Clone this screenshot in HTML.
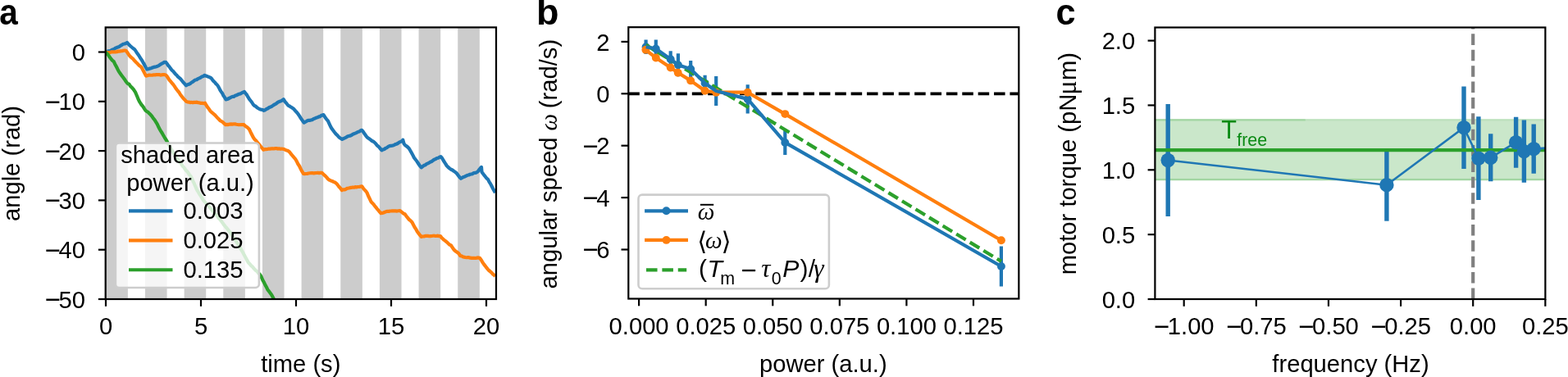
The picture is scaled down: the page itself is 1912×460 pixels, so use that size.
<!DOCTYPE html>
<html lang="en">
<head>
<meta charset="utf-8">
<title>Figure: rotation under modulated power</title>
<style>
html,body{margin:0;padding:0;background:#fff;}
body{width:1912px;height:460px;overflow:hidden;}
svg{display:block;}
svg{font-family:"Liberation Sans", sans-serif;font-size:29.2px;}
</style>
</head>
<body>
<svg width="1912" height="460" viewBox="0 0 1912 460">
<rect x="0" y="0" width="1912" height="460" fill="#fff"/>
<g id="panel-a">
<clipPath id="clipA"><rect x="128.7" y="33.4" width="476.3" height="331.6"/></clipPath>
<g clip-path="url(#clipA)">
<rect x="129.30" y="33.4" width="26.6" height="331.6" fill="#cccccc"/>
<rect x="176.96" y="33.4" width="26.6" height="331.6" fill="#cccccc"/>
<rect x="224.62" y="33.4" width="26.6" height="331.6" fill="#cccccc"/>
<rect x="272.28" y="33.4" width="26.6" height="331.6" fill="#cccccc"/>
<rect x="319.94" y="33.4" width="26.6" height="331.6" fill="#cccccc"/>
<rect x="367.60" y="33.4" width="26.6" height="331.6" fill="#cccccc"/>
<rect x="415.26" y="33.4" width="26.6" height="331.6" fill="#cccccc"/>
<rect x="462.92" y="33.4" width="26.6" height="331.6" fill="#cccccc"/>
<rect x="510.58" y="33.4" width="26.6" height="331.6" fill="#cccccc"/>
<rect x="558.24" y="33.4" width="26.6" height="331.6" fill="#cccccc"/>
<polyline points="129.00,63.50 130.70,62.86 132.40,62.33 134.10,62.10 135.80,61.29 137.50,60.54 139.09,59.87 140.68,58.75 142.27,58.08 143.86,57.47 145.45,56.93 147.05,55.66 148.64,54.80 150.23,53.79 151.82,53.53 153.41,52.94 155.00,51.87 156.75,53.86 158.50,55.76 160.25,57.25 162.00,58.75 163.75,59.95 165.25,61.75 166.75,64.25 168.25,66.22 169.75,68.43 171.25,71.03 172.85,73.18 174.45,76.12 176.05,78.91 177.65,82.00 179.25,84.54 180.90,84.18 182.55,83.60 184.20,83.20 185.85,82.57 187.50,81.94 189.11,81.67 190.72,81.26 192.33,80.58 193.94,79.77 195.56,78.66 197.17,77.67 198.78,76.86 200.39,75.90 202.00,75.73 203.50,77.49 205.00,79.71 206.50,81.35 208.00,83.61 209.50,85.58 211.00,86.75 212.50,88.61 214.00,90.43 215.50,91.82 217.00,93.72 218.50,94.92 220.00,96.13 221.75,98.27 223.50,100.60 225.25,102.35 227.00,104.33 228.60,103.22 230.20,102.91 231.80,102.15 233.40,100.75 235.00,99.88 236.61,98.58 238.22,97.53 239.83,97.22 241.44,96.09 243.06,95.42 244.67,94.54 246.28,93.43 247.89,92.91 249.50,91.87 251.10,92.65 252.70,93.03 254.30,93.82 255.90,94.39 257.50,95.33 259.00,97.34 260.50,99.18 262.00,100.48 263.50,102.46 265.00,103.73 266.50,106.16 268.00,109.07 269.50,111.62 271.00,113.68 272.50,116.75 274.00,118.88 275.50,121.40 277.08,121.02 278.67,120.24 280.25,119.51 281.83,118.65 283.42,117.93 285.00,117.89 286.62,116.83 288.25,116.32 289.88,115.47 291.50,114.73 293.12,114.43 294.75,113.48 296.38,112.69 298.00,111.92 299.54,113.94 301.07,115.91 302.61,118.68 304.14,121.13 305.68,122.99 307.21,124.96 308.75,127.52 310.31,129.05 311.88,129.71 313.44,131.26 315.00,132.22 316.69,133.15 318.38,133.65 320.06,133.98 321.75,134.77 323.41,134.17 325.06,132.95 326.72,132.27 328.38,131.08 330.03,130.51 331.69,129.57 333.34,128.36 335.00,127.37 336.54,126.62 338.07,125.33 339.61,124.37 341.14,123.73 342.68,123.25 344.21,122.36 345.75,121.22 347.58,124.08 349.42,126.17 351.25,128.56 352.75,129.28 354.25,130.44 355.75,131.18 357.25,132.15 358.75,133.57 360.31,135.44 361.88,137.07 363.44,139.01 365.00,141.31 366.44,143.83 367.88,145.80 369.31,147.84 370.75,149.62 372.43,148.70 374.11,147.71 375.79,146.86 377.46,146.91 379.14,146.45 380.82,146.15 382.50,144.94 384.00,144.41 385.50,143.76 387.00,143.34 388.50,142.45 390.00,142.30 391.50,141.10 393.00,140.58 394.50,140.08 396.33,142.97 398.17,145.47 400.00,147.68 401.67,151.34 403.33,154.82 405.00,157.59 406.50,159.54 408.00,161.52 409.50,163.37 411.00,164.77 412.50,166.41 414.08,167.97 415.67,168.95 417.25,169.88 418.84,169.07 420.44,168.36 422.03,167.66 423.62,166.46 425.22,165.97 426.81,165.68 428.41,165.08 430.00,163.96 431.61,163.22 433.21,162.64 434.82,161.85 436.43,160.97 438.04,160.53 439.64,159.28 441.25,158.80 442.81,160.58 444.38,163.02 445.94,165.24 447.50,167.39 449.00,168.52 450.50,169.51 452.00,170.61 453.50,171.94 455.00,172.51 456.50,173.61 458.00,175.16 459.50,177.04 461.00,178.34 462.50,179.71 464.00,181.82 465.50,183.33 467.08,182.48 468.67,181.97 470.25,180.81 471.83,180.10 473.42,178.91 475.00,178.19 476.67,177.90 478.33,177.64 480.00,177.23 481.67,176.31 483.33,175.74 485.00,174.98 486.83,173.64 488.67,172.80 490.50,172.08 491.25,170.67 492.50,175.17 494.06,177.20 495.62,178.27 497.19,179.47 498.75,181.18 500.31,183.77 501.88,186.46 503.44,189.38 505.00,192.48 506.75,194.81 508.50,197.01 510.25,199.75 512.00,202.45 513.75,204.35 515.36,203.04 516.96,201.77 518.57,201.39 520.18,200.00 521.79,199.40 523.39,198.51 525.00,197.44 526.56,196.90 528.12,195.60 529.69,194.65 531.25,194.05 532.81,192.99 534.38,192.78 535.94,191.78 537.50,191.06 539.00,192.84 540.50,195.50 542.00,197.82 543.50,200.27 545.00,202.56 546.67,204.11 548.33,205.61 550.00,206.75 551.67,207.51 553.33,208.73 555.00,209.88 556.75,211.39 558.50,213.64 560.25,216.00 562.00,217.88 563.60,216.79 565.20,215.96 566.80,215.44 568.40,214.61 570.00,213.79 571.56,213.51 573.12,212.75 574.69,212.45 576.25,212.15 577.81,211.01 579.38,210.91 580.94,210.42 582.50,209.45 584.00,207.48 585.50,205.72 587.00,203.91 587.50,210.04 589.00,211.87 590.50,213.91 592.00,215.74 593.50,217.67 595.00,218.88 596.50,221.78 598.00,224.08 599.50,227.03 601.00,229.95 602.50,232.62 604.00,235.15" fill="none" stroke="#1f77b4" stroke-width="4.2" stroke-linejoin="round" stroke-linecap="butt"/>
<polyline points="129.00,63.50 130.69,63.85 132.38,64.05 134.06,64.10 135.75,63.38 137.44,63.43 139.12,63.29 140.81,63.30 142.50,63.12 144.11,62.62 145.71,62.59 147.32,62.30 148.93,62.27 150.54,61.78 152.14,61.49 153.75,61.92 155.62,64.57 157.50,67.47 159.00,69.16 160.50,70.46 162.00,71.58 163.50,73.52 165.00,75.04 166.50,76.59 168.00,78.02 169.50,79.74 171.00,80.77 172.50,82.13 174.33,85.56 176.17,89.10 178.00,92.58 179.58,92.23 181.17,91.68 182.75,91.63 184.33,91.73 185.92,91.57 187.50,91.26 189.11,91.44 190.72,91.15 192.33,91.01 193.94,91.09 195.56,91.60 197.17,91.35 198.78,91.16 200.39,91.07 202.00,91.45 203.50,93.02 205.00,95.26 206.50,97.57 208.00,99.24 209.50,101.05 211.00,102.83 212.50,104.87 214.00,107.17 215.50,109.28 217.00,111.13 218.50,112.95 220.00,115.50 221.75,117.75 223.50,120.03 225.25,121.67 227.00,123.76 228.60,124.39 230.20,124.55 231.80,125.07 233.40,124.76 235.00,125.17 236.67,124.89 238.33,124.95 240.00,124.65 241.67,125.22 243.33,125.44 245.00,125.85 246.67,125.95 248.33,126.16 250.00,125.67 251.56,128.55 253.12,130.84 254.69,132.81 256.25,135.21 258.00,136.93 259.75,138.32 261.50,139.77 263.25,141.71 265.00,143.58 266.67,145.32 268.33,147.07 270.00,148.01 271.67,149.07 273.33,150.67 275.00,152.09 276.67,151.91 278.33,152.10 280.00,151.63 281.67,151.45 283.33,151.70 285.00,151.29 286.56,151.26 288.12,151.75 289.69,151.98 291.25,152.23 292.81,152.22 294.38,152.01 295.94,152.19 297.50,152.18 299.06,153.75 300.62,154.72 302.19,155.92 303.75,157.42 305.42,160.97 307.08,164.29 308.75,167.55 310.42,169.94 312.08,171.51 313.75,173.76 315.25,175.37 316.75,177.23 318.25,179.29 319.75,180.68 321.25,182.65 322.86,182.15 324.46,182.10 326.07,181.98 327.68,181.56 329.29,181.54 330.89,181.36 332.50,181.22 334.06,181.46 335.62,181.01 337.19,181.13 338.75,181.59 340.31,181.29 341.88,181.80 343.44,181.52 345.00,181.78 346.50,182.14 348.00,182.86 349.50,183.53 351.00,183.88 352.50,184.97 354.00,186.69 355.50,188.64 357.00,190.36 358.50,192.11 360.00,193.78 361.67,196.61 363.33,200.03 365.00,202.53 366.67,205.97 368.33,209.20 370.00,211.85 371.56,212.07 373.12,211.99 374.69,211.86 376.25,211.48 377.81,211.26 379.38,211.14 380.94,211.01 382.50,211.35 384.17,211.16 385.83,210.98 387.50,210.87 389.17,211.13 390.83,210.93 392.50,210.79 394.00,212.19 395.50,213.66 397.00,215.02 398.50,216.60 400.00,218.54 401.67,219.62 403.33,220.44 405.00,220.91 406.67,221.86 408.33,222.45 410.00,223.67 411.75,225.65 413.50,228.11 415.25,229.85 417.00,232.11 418.60,231.42 420.20,231.39 421.80,230.84 423.40,229.77 425.00,229.56 426.62,229.18 428.25,228.91 429.88,228.48 431.50,228.77 433.12,228.17 434.75,228.33 436.38,228.02 438.00,228.02 439.62,227.58 441.25,227.32 442.81,229.50 444.38,231.46 445.94,232.94 447.50,235.13 449.17,239.30 450.83,242.52 452.50,246.08 454.00,247.84 455.50,249.29 457.00,251.40 458.50,253.09 460.00,255.01 461.50,256.72 463.00,258.61 464.50,260.19 466.10,259.95 467.70,259.48 469.30,258.80 470.90,258.07 472.50,257.78 474.17,257.91 475.83,257.52 477.50,257.46 479.17,257.28 480.83,257.40 482.50,257.34 484.17,257.55 485.83,257.23 487.50,256.98 489.06,258.17 490.62,259.40 492.19,260.72 493.75,261.30 495.50,263.67 497.25,265.91 499.00,268.05 500.75,269.36 502.50,271.23 504.06,274.28 505.62,277.29 507.19,279.50 508.75,282.42 510.42,284.68 512.08,286.95 513.75,288.83 515.36,288.49 516.96,288.37 518.57,287.94 520.18,287.89 521.79,287.91 523.39,288.23 525.00,288.06 526.50,288.00 528.00,287.77 529.50,287.71 531.00,287.99 532.50,287.95 534.00,287.68 535.50,288.11 537.00,288.05 538.42,289.99 539.83,291.30 541.25,292.61 543.00,293.94 544.75,295.35 546.50,297.01 548.25,298.58 550.00,299.46 551.88,302.35 553.75,304.89 555.42,306.41 557.08,307.49 558.75,308.71 560.00,310.16 561.25,312.23 562.78,312.31 564.31,313.23 565.83,313.64 567.36,313.97 568.89,314.24 570.42,314.15 571.94,314.14 573.47,314.65 575.00,314.83 576.67,314.84 578.33,314.93 580.00,315.00 581.67,314.66 583.33,314.42 585.00,314.86 586.67,316.99 588.33,319.85 590.00,322.40 591.56,324.34 593.12,326.46 594.69,328.34 596.25,330.06 597.80,331.21 599.35,332.56 600.90,334.50 602.45,335.55 604.00,336.91" fill="none" stroke="#ff7f0e" stroke-width="4.2" stroke-linejoin="round" stroke-linecap="butt"/>
<polyline points="129.00,63.50 130.50,65.60 132.00,67.10 133.50,69.27 135.00,71.36 136.88,73.58 138.75,75.11 140.31,78.39 141.88,81.28 143.44,84.42 145.00,87.37 146.67,89.77 148.33,92.16 150.00,94.22 151.67,96.47 153.33,99.06 155.00,101.25 156.25,102.29 157.50,102.76 159.00,105.16 160.50,106.50 162.00,108.12 163.50,110.10 165.00,112.36 166.67,116.24 168.33,120.29 170.00,123.84 171.50,126.24 173.00,128.45 174.50,130.19 176.00,132.60 177.50,134.86 179.06,135.99 180.62,136.91 182.19,138.57 183.75,140.11 185.31,141.95 186.88,144.31 188.44,146.10 190.00,148.60 191.56,151.04 193.12,154.41 194.69,157.41 196.25,160.19 197.75,162.51 199.25,165.20 200.75,167.79 202.25,170.17 203.75,172.69 205.50,176.12 207.25,179.01 209.00,182.45 210.75,185.59 212.50,188.67 214.17,191.03 215.83,192.92 217.50,195.35 219.17,197.82 220.83,199.71 222.50,202.44 224.17,204.13 225.83,206.55 227.50,208.55 229.17,210.30 230.83,213.07 232.50,214.88 234.00,217.80 235.50,221.30 237.00,224.47 238.50,227.94 240.00,231.35 241.58,234.00 243.16,236.64 244.74,239.04 246.32,241.45 247.90,244.39 249.39,246.01 250.87,247.75 252.36,249.82 253.84,250.90 255.33,252.49 256.81,254.39 258.30,256.01 259.97,258.14 261.64,260.04 263.31,261.89 264.99,263.69 266.66,266.26 268.33,267.73 270.00,270.05 271.67,272.34 273.33,274.66 275.00,276.70 276.67,278.45 278.33,280.52 280.00,282.68 281.67,284.83 283.33,287.72 285.00,290.28 286.67,292.38 288.33,295.35 290.00,297.51 291.57,299.87 293.15,302.67 294.73,305.70 296.30,308.20 297.88,311.34 299.45,314.20 301.03,316.94 302.60,320.04 304.40,321.96 306.20,324.11 308.00,325.64 309.83,327.89 311.67,329.82 313.50,331.19 314.93,333.09 316.37,334.33 317.80,336.24 319.27,339.23 320.73,342.54 322.20,345.15 323.63,348.18 325.07,350.58 326.50,353.71 328.00,355.47 329.50,357.50 331.00,359.51 332.50,362.33 334.50,366.12" fill="none" stroke="#2ca02c" stroke-width="4.2" stroke-linejoin="round" stroke-linecap="butt"/>
</g>
<rect x="140.9" y="174.5" width="175" height="176.5" rx="4.5" ry="4.5" fill="#fff" fill-opacity="0.8" stroke="#cdcdcd" stroke-width="2.6"/>
<text transform="translate(228.3,199.0) scale(1,1.04)" text-anchor="middle">shaded area</text>
<text transform="translate(232,232.5) scale(1,1.04)" text-anchor="middle">power (a.u.)</text>
<line x1="157" y1="257.45" x2="210.5" y2="257.45" stroke="#1f77b4" stroke-width="4.2"/>
<text transform="translate(223.5,267.35) scale(1,1.04)">0.003</text>
<line x1="157" y1="293.35" x2="210.5" y2="293.35" stroke="#ff7f0e" stroke-width="4.2"/>
<text transform="translate(223.5,303.25) scale(1,1.04)">0.025</text>
<line x1="157" y1="329.25" x2="210.5" y2="329.25" stroke="#2ca02c" stroke-width="4.2"/>
<text transform="translate(223.5,339.15) scale(1,1.04)">0.135</text>
<rect x="128.7" y="33.4" width="476.3" height="331.6" fill="none" stroke="#000" stroke-width="2.2"/>
<line x1="129" y1="365.0" x2="129" y2="373.8" stroke="#000" stroke-width="2.2"/>
<text transform="translate(129.00,408.40) scale(1,1.04)" text-anchor="middle">0</text>
<line x1="245" y1="365.0" x2="245" y2="373.8" stroke="#000" stroke-width="2.2"/>
<text transform="translate(245.00,408.40) scale(1,1.04)" text-anchor="middle">5</text>
<line x1="361" y1="365.0" x2="361" y2="373.8" stroke="#000" stroke-width="2.2"/>
<text transform="translate(361.00,408.40) scale(1,1.04)" text-anchor="middle">10</text>
<line x1="477" y1="365.0" x2="477" y2="373.8" stroke="#000" stroke-width="2.2"/>
<text transform="translate(477.00,408.40) scale(1,1.04)" text-anchor="middle">15</text>
<line x1="593" y1="365.0" x2="593" y2="373.8" stroke="#000" stroke-width="2.2"/>
<text transform="translate(593.00,408.40) scale(1,1.04)" text-anchor="middle">20</text>
<line x1="128.7" y1="63.5" x2="119.89999999999999" y2="63.5" stroke="#000" stroke-width="2.2"/>
<text transform="translate(104.00,74.10) scale(1,1.04)" text-anchor="end">0</text>
<line x1="128.7" y1="123.8" x2="119.89999999999999" y2="123.8" stroke="#000" stroke-width="2.2"/>
<text transform="translate(54.47,134.40) scale(1,1.04)"><tspan x="0" y="1.26" font-size="33.0">−</tspan><tspan x="17.05" y="0">10</tspan></text>
<line x1="128.7" y1="184.1" x2="119.89999999999999" y2="184.1" stroke="#000" stroke-width="2.2"/>
<text transform="translate(54.47,194.70) scale(1,1.04)"><tspan x="0" y="1.26" font-size="33.0">−</tspan><tspan x="17.05" y="0">20</tspan></text>
<line x1="128.7" y1="244.4" x2="119.89999999999999" y2="244.4" stroke="#000" stroke-width="2.2"/>
<text transform="translate(54.47,255.00) scale(1,1.04)"><tspan x="0" y="1.26" font-size="33.0">−</tspan><tspan x="17.05" y="0">30</tspan></text>
<line x1="128.7" y1="304.7" x2="119.89999999999999" y2="304.7" stroke="#000" stroke-width="2.2"/>
<text transform="translate(54.47,315.30) scale(1,1.04)"><tspan x="0" y="1.26" font-size="33.0">−</tspan><tspan x="17.05" y="0">40</tspan></text>
<line x1="128.7" y1="365" x2="119.89999999999999" y2="365" stroke="#000" stroke-width="2.2"/>
<text transform="translate(54.47,375.60) scale(1,1.04)"><tspan x="0" y="1.26" font-size="33.0">−</tspan><tspan x="17.05" y="0">50</tspan></text>
<text transform="translate(366.8,453.6) scale(1,1.04)" text-anchor="middle">time (s)</text>
<text transform="translate(24.3,199.5) rotate(-90) scale(1,1.04)" text-anchor="middle">angle (rad)</text>
<text transform="translate(-0.7,30.45) scale(0.9,1)" font-weight="bold" font-size="45">a</text>
</g>
<g id="panel-b">
<clipPath id="clipB"><rect x="766.3" y="33.2" width="476.04999999999995" height="331.3"/></clipPath>
<g clip-path="url(#clipB)">
<line x1="766.3" y1="114.3" x2="1242.35" y2="114.3" stroke="#000" stroke-width="3.7" stroke-dasharray="13.55 5.83"/>
<line x1="787.6" y1="48.60000000000001" x2="787.6" y2="66.0" stroke="#1f77b4" stroke-width="4.2"/>
<line x1="799.8" y1="48.4" x2="799.8" y2="70.4" stroke="#1f77b4" stroke-width="4.2"/>
<line x1="817.7" y1="62.3" x2="817.7" y2="82.3" stroke="#1f77b4" stroke-width="4.2"/>
<line x1="826.9" y1="65.19999999999999" x2="826.9" y2="93.19999999999999" stroke="#1f77b4" stroke-width="4.2"/>
<line x1="842.2" y1="74.1" x2="842.2" y2="94.5" stroke="#1f77b4" stroke-width="4.2"/>
<line x1="859.6" y1="91.8" x2="859.6" y2="111.39999999999999" stroke="#1f77b4" stroke-width="4.2"/>
<line x1="873.2" y1="92.9" x2="873.2" y2="129.1" stroke="#1f77b4" stroke-width="4.2"/>
<line x1="911.7" y1="103.29999999999998" x2="911.7" y2="138.5" stroke="#1f77b4" stroke-width="4.2"/>
<line x1="957.3" y1="158.9" x2="957.3" y2="188.9" stroke="#1f77b4" stroke-width="4.2"/>
<line x1="1220.9" y1="300.5" x2="1220.9" y2="349.5" stroke="#1f77b4" stroke-width="4.2"/>
<circle cx="787.6" cy="57.300000000000004" r="4.95" fill="#1f77b4"/>
<circle cx="799.8" cy="59.4" r="4.95" fill="#1f77b4"/>
<circle cx="817.7" cy="72.3" r="4.95" fill="#1f77b4"/>
<circle cx="826.9" cy="79.19999999999999" r="4.95" fill="#1f77b4"/>
<circle cx="842.2" cy="84.3" r="4.95" fill="#1f77b4"/>
<circle cx="859.6" cy="101.6" r="4.95" fill="#1f77b4"/>
<circle cx="873.2" cy="111.0" r="4.95" fill="#1f77b4"/>
<circle cx="911.7" cy="120.89999999999999" r="4.95" fill="#1f77b4"/>
<circle cx="957.3" cy="173.9" r="4.95" fill="#1f77b4"/>
<circle cx="1220.9" cy="325.0" r="4.95" fill="#1f77b4"/>
<line x1="787.6" y1="54.9" x2="1220.9" y2="318.9" stroke="#2ca02c" stroke-width="4.2" stroke-dasharray="13.55 5.83" stroke-dashoffset="2.5"/>
<polyline points="787.40,60.80 799.80,70.50 817.70,82.50 826.70,88.70 842.20,98.40 859.60,110.80 873.20,112.70 911.70,112.70 957.30,139.10 1220.90,293.20" fill="none" stroke="#ff7f0e" stroke-width="4.2" stroke-linejoin="round"/>
<circle cx="787.4" cy="60.800000000000004" r="4.95" fill="#ff7f0e"/>
<circle cx="799.8" cy="70.5" r="4.95" fill="#ff7f0e"/>
<circle cx="817.7" cy="82.5" r="4.95" fill="#ff7f0e"/>
<circle cx="826.7" cy="88.69999999999999" r="4.95" fill="#ff7f0e"/>
<circle cx="842.2" cy="98.39999999999999" r="4.95" fill="#ff7f0e"/>
<circle cx="859.6" cy="110.8" r="4.95" fill="#ff7f0e"/>
<circle cx="873.2" cy="112.69999999999999" r="4.95" fill="#ff7f0e"/>
<circle cx="911.7" cy="112.69999999999999" r="4.95" fill="#ff7f0e"/>
<circle cx="957.3" cy="139.1" r="4.95" fill="#ff7f0e"/>
<circle cx="1220.9" cy="293.20000000000005" r="4.95" fill="#ff7f0e"/>
<polyline points="787.60,57.30 799.80,59.40 817.70,72.30 826.90,79.20 842.20,84.30 859.60,101.60 873.20,111.00 911.70,120.90 957.30,173.90 1220.90,325.00" fill="none" stroke="#1f77b4" stroke-width="4.2" stroke-linejoin="round"/>
</g>
<rect x="778.5" y="237.6" width="232.4" height="114.7" rx="4.6" ry="4.6" fill="#fff" fill-opacity="0.8" stroke="#cdcdcd" stroke-width="2.6"/>
<line x1="786.1" y1="257.3" x2="839" y2="257.3" stroke="#1f77b4" stroke-width="4.2"/><circle cx="812.5" cy="257.3" r="4.95" fill="#1f77b4"/>
<line x1="786.1" y1="292.9" x2="839" y2="292.9" stroke="#ff7f0e" stroke-width="4.2"/><circle cx="812.5" cy="292.9" r="4.95" fill="#ff7f0e"/>
<line x1="788" y1="329.3" x2="837.2" y2="329.3" stroke="#2ca02c" stroke-width="4.2" stroke-dasharray="13.55 5.83"/>
<text x="850.7" y="267.7" font-family='"Liberation Serif", serif' font-style="italic">ω</text>
<line x1="853.9" y1="249.8" x2="870.2" y2="249.8" stroke="#000" stroke-width="2"/>
<text><tspan x="850.2" y="305.2" font-size="31" font-family='"DejaVu Sans", "Liberation Sans", sans-serif'>⟨</tspan><tspan x="860.0" y="302.8" font-family='"Liberation Serif", serif' font-style="italic">ω</tspan><tspan x="879.5" y="305.2" font-size="31" font-family='"DejaVu Sans", "Liberation Sans", sans-serif'>⟩</tspan></text>
<text><tspan x="851.9" y="337.9" font-size="30">(</tspan><tspan x="862.4" y="337.9" font-size="30.2" font-style="italic">T</tspan><tspan x="878.3" y="346.7" font-size="21.4">m</tspan><tspan x="903.3" y="340.79999999999995" font-size="33">−</tspan><tspan x="928.2" y="338.09999999999997" font-size="31" font-family='"Liberation Serif", serif' font-style="italic">τ</tspan><tspan x="940.7" y="346.79999999999995" font-size="21.4">0</tspan><tspan x="954.2" y="337.9" font-size="30.2" font-style="italic">P</tspan><tspan x="975.6" y="337.9" font-size="30">)</tspan><tspan x="985.7" y="337.9" font-size="30">/</tspan><tspan x="991.9" y="337.9" font-size="32" font-family='"Liberation Serif", serif' font-style="italic">γ</tspan></text>
<rect x="766.3" y="33.2" width="476.04999999999995" height="331.3" fill="none" stroke="#000" stroke-width="2.2"/>
<line x1="779.1" y1="364.5" x2="779.1" y2="373.3" stroke="#000" stroke-width="2.2"/>
<text transform="translate(779.10,408.40) scale(1,1.04)" text-anchor="middle">0.000</text>
<line x1="860.6750000000001" y1="364.5" x2="860.6750000000001" y2="373.3" stroke="#000" stroke-width="2.2"/>
<text transform="translate(860.68,408.40) scale(1,1.04)" text-anchor="middle">0.025</text>
<line x1="942.25" y1="364.5" x2="942.25" y2="373.3" stroke="#000" stroke-width="2.2"/>
<text transform="translate(942.25,408.40) scale(1,1.04)" text-anchor="middle">0.050</text>
<line x1="1023.825" y1="364.5" x2="1023.825" y2="373.3" stroke="#000" stroke-width="2.2"/>
<text transform="translate(1023.83,408.40) scale(1,1.04)" text-anchor="middle">0.075</text>
<line x1="1105.4" y1="364.5" x2="1105.4" y2="373.3" stroke="#000" stroke-width="2.2"/>
<text transform="translate(1105.40,408.40) scale(1,1.04)" text-anchor="middle">0.100</text>
<line x1="1186.975" y1="364.5" x2="1186.975" y2="373.3" stroke="#000" stroke-width="2.2"/>
<text transform="translate(1186.97,408.40) scale(1,1.04)" text-anchor="middle">0.125</text>
<line x1="766.3" y1="50.9" x2="757.4999999999999" y2="50.9" stroke="#000" stroke-width="2.2"/>
<text transform="translate(743.60,61.50) scale(1,1.04)" text-anchor="end">2</text>
<line x1="766.3" y1="114.3" x2="757.4999999999999" y2="114.3" stroke="#000" stroke-width="2.2"/>
<text transform="translate(743.60,124.90) scale(1,1.04)" text-anchor="end">0</text>
<line x1="766.3" y1="177.7" x2="757.4999999999999" y2="177.7" stroke="#000" stroke-width="2.2"/>
<text transform="translate(710.31,188.30) scale(1,1.04)"><tspan x="0" y="1.26" font-size="33.0">−</tspan><tspan x="17.05" y="0">2</tspan></text>
<line x1="766.3" y1="241.1" x2="757.4999999999999" y2="241.1" stroke="#000" stroke-width="2.2"/>
<text transform="translate(710.31,251.70) scale(1,1.04)"><tspan x="0" y="1.26" font-size="33.0">−</tspan><tspan x="17.05" y="0">4</tspan></text>
<line x1="766.3" y1="304.5" x2="757.4999999999999" y2="304.5" stroke="#000" stroke-width="2.2"/>
<text transform="translate(710.31,315.10) scale(1,1.04)"><tspan x="0" y="1.26" font-size="33.0">−</tspan><tspan x="17.05" y="0">6</tspan></text>
<text transform="translate(1003.8,453.6) scale(1,1.04)" text-anchor="middle">power (a.u.)</text>
<text transform="translate(679.3,0) rotate(-90) scale(1,1.04)"><tspan x="-352.5">angular speed </tspan><tspan x="-159.4" font-family='"Liberation Serif", serif' font-style="italic">ω </tspan><tspan x="-132.2">(rad/s)</tspan></text>
<text x="654.0" y="30.45" font-weight="bold" font-size="45">b</text>
</g>
<g id="panel-c">
<clipPath id="clipC"><rect x="1408.4" y="33.5" width="475.9499999999998" height="331.5"/></clipPath>
<g clip-path="url(#clipC)">
<rect x="1403.4" y="145.2" width="485.9499999999998" height="75.0" fill="#2ca02c" fill-opacity="0.25"/>
<rect x="1403.4" y="145.2" width="188.3" height="2.3" fill="#2ca02c" fill-opacity="0.25"/>
<rect x="1591.7" y="145.2" width="297.6" height="2.3" fill="#2ca02c" fill-opacity="0.08"/>
<rect x="1403.4" y="217.9" width="485.9499999999998" height="2.3" fill="#2ca02c" fill-opacity="0.25"/>
<line x1="1796.2" y1="365.0" x2="1796.2" y2="33.5" stroke="#808080" stroke-width="4.2" stroke-dasharray="13.55 5.83"/>
<line x1="1424.2" y1="127.1" x2="1424.2" y2="263.9" stroke="#1f77b4" stroke-width="5.4"/>
<line x1="1690.9" y1="181.7" x2="1690.9" y2="269.7" stroke="#1f77b4" stroke-width="5.4"/>
<line x1="1785.0" y1="105.39999999999999" x2="1785.0" y2="206.0" stroke="#1f77b4" stroke-width="5.4"/>
<line x1="1802.9" y1="142.2" x2="1802.9" y2="244.0" stroke="#1f77b4" stroke-width="5.4"/>
<line x1="1817.7" y1="163.3" x2="1817.7" y2="221.3" stroke="#1f77b4" stroke-width="5.4"/>
<line x1="1848.6" y1="142.7" x2="1848.6" y2="204.7" stroke="#1f77b4" stroke-width="5.4"/>
<line x1="1858.4" y1="146.5" x2="1858.4" y2="222.7" stroke="#1f77b4" stroke-width="5.4"/>
<line x1="1870.2" y1="151.4" x2="1870.2" y2="211.79999999999998" stroke="#1f77b4" stroke-width="5.4"/>
<line x1="1895" y1="150" x2="1895" y2="210" stroke="#1f77b4" stroke-width="5.4"/>
<line x1="1408.4" y1="183.1" x2="1884.35" y2="183.1" stroke="#2ca02c" stroke-width="4.2"/>
<polyline points="1424.20,195.50 1690.90,225.70 1785.00,155.70 1802.90,193.10 1817.70,192.30 1848.60,173.70 1858.40,184.60 1870.20,181.60 1895.00,180.00" fill="none" stroke="#1f77b4" stroke-width="2.6" stroke-linejoin="round"/>
<circle cx="1424.2" cy="195.5" r="8.7" fill="#1f77b4"/>
<circle cx="1690.9" cy="225.7" r="8.7" fill="#1f77b4"/>
<circle cx="1785.0" cy="155.7" r="8.7" fill="#1f77b4"/>
<circle cx="1802.9" cy="193.1" r="8.7" fill="#1f77b4"/>
<circle cx="1817.7" cy="192.3" r="8.7" fill="#1f77b4"/>
<circle cx="1848.6" cy="173.7" r="8.7" fill="#1f77b4"/>
<circle cx="1858.4" cy="184.6" r="8.7" fill="#1f77b4"/>
<circle cx="1870.2" cy="181.6" r="8.7" fill="#1f77b4"/>
<circle cx="1895" cy="180" r="8.7" fill="#1f77b4"/>
</g>
<text fill="#0a8a14"><tspan x="1489.3" y="168.9" font-size="30.6">T</tspan><tspan x="1508.2" y="177.8" font-size="21.4">free</tspan></text>
<rect x="1408.4" y="33.5" width="475.9499999999998" height="331.5" fill="none" stroke="#000" stroke-width="2.2"/>
<line x1="1443.7" y1="365.0" x2="1443.7" y2="373.8" stroke="#000" stroke-width="2.2"/>
<text transform="translate(1406.76,408.40) scale(1,1.04)"><tspan x="0" y="1.26" font-size="33.0">−</tspan><tspan x="17.05" y="0">1.00</tspan></text>
<line x1="1531.825" y1="365.0" x2="1531.825" y2="373.8" stroke="#000" stroke-width="2.2"/>
<text transform="translate(1494.88,408.40) scale(1,1.04)"><tspan x="0" y="1.26" font-size="33.0">−</tspan><tspan x="17.05" y="0">0.75</tspan></text>
<line x1="1619.95" y1="365.0" x2="1619.95" y2="373.8" stroke="#000" stroke-width="2.2"/>
<text transform="translate(1583.01,408.40) scale(1,1.04)"><tspan x="0" y="1.26" font-size="33.0">−</tspan><tspan x="17.05" y="0">0.50</tspan></text>
<line x1="1708.075" y1="365.0" x2="1708.075" y2="373.8" stroke="#000" stroke-width="2.2"/>
<text transform="translate(1671.13,408.40) scale(1,1.04)"><tspan x="0" y="1.26" font-size="33.0">−</tspan><tspan x="17.05" y="0">0.25</tspan></text>
<line x1="1796.2" y1="365.0" x2="1796.2" y2="373.8" stroke="#000" stroke-width="2.2"/>
<text transform="translate(1796.20,408.40) scale(1,1.04)" text-anchor="middle">0.00</text>
<line x1="1884.325" y1="365.0" x2="1884.325" y2="373.8" stroke="#000" stroke-width="2.2"/>
<text transform="translate(1884.33,408.40) scale(1,1.04)" text-anchor="middle">0.25</text>
<line x1="1408.4" y1="365.0" x2="1399.6000000000001" y2="365.0" stroke="#000" stroke-width="2.2"/>
<text transform="translate(1384.20,375.60) scale(1,1.04)" text-anchor="end">0.0</text>
<line x1="1408.4" y1="286.15" x2="1399.6000000000001" y2="286.15" stroke="#000" stroke-width="2.2"/>
<text transform="translate(1384.20,296.75) scale(1,1.04)" text-anchor="end">0.5</text>
<line x1="1408.4" y1="207.3" x2="1399.6000000000001" y2="207.3" stroke="#000" stroke-width="2.2"/>
<text transform="translate(1384.20,217.90) scale(1,1.04)" text-anchor="end">1.0</text>
<line x1="1408.4" y1="128.45000000000002" x2="1399.6000000000001" y2="128.45000000000002" stroke="#000" stroke-width="2.2"/>
<text transform="translate(1384.20,139.05) scale(1,1.04)" text-anchor="end">1.5</text>
<line x1="1408.4" y1="49.60000000000002" x2="1399.6000000000001" y2="49.60000000000002" stroke="#000" stroke-width="2.2"/>
<text transform="translate(1384.20,60.20) scale(1,1.04)" text-anchor="end">2.0</text>
<text transform="translate(1647.0,453.6) scale(1,1.04)" text-anchor="middle">frequency (Hz)</text>
<text transform="translate(1312.3,0) rotate(-90) scale(1,1.04)"><tspan x="-335.3">motor torque (pN</tspan><tspan x="-115.8" font-size="32.5" font-family='"Liberation Serif", serif'>μ</tspan><tspan x="-98.1">m)</tspan></text>
<text transform="translate(1287.4,30.45) scale(0.96,1)" font-weight="bold" font-size="45">c</text>
</g>
</svg>
</body>
</html>
